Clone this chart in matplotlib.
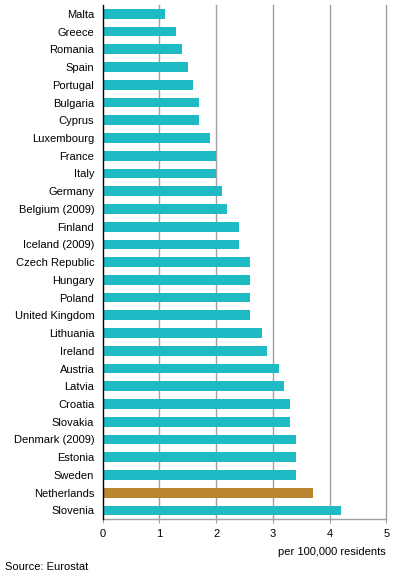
import matplotlib.pyplot as plt
import numpy as np

plt.rcParams['font.family'] = ['Liberation Sans', 'DejaVu Sans']

countries = ['Malta', 'Greece', 'Romania', 'Spain', 'Portugal', 'Bulgaria', 'Cyprus',
             'Luxembourg', 'France', 'Italy', 'Germany', 'Belgium (2009)', 'Finland',
             'Iceland (2009)', 'Czech Republic', 'Hungary', 'Poland', 'United Kingdom',
             'Lithuania', 'Ireland', 'Austria', 'Latvia', 'Croatia', 'Slovakia',
             'Denmark (2009)', 'Estonia', 'Sweden', 'Netherlands', 'Slovenia']
values = [1.1, 1.3, 1.4, 1.5, 1.6, 1.7, 1.7, 1.9, 2.0, 2.0, 2.1, 2.2, 2.4, 2.4,
          2.6, 2.6, 2.6, 2.6, 2.8, 2.9, 3.1, 3.2, 3.3, 3.3, 3.4, 3.4, 3.4, 3.7, 4.2]
highlight = 'Netherlands'

teal = '#1FBBC4'
brown = '#B98530'
grid_col = '#A0A0A0'

fig = plt.figure(figsize=(3.96, 5.8), dpi=100)
ax = fig.add_axes([0.2593, 0.1047, 0.7162, 0.8867])

ypos = np.arange(len(countries))
colors = [brown if c == highlight else teal for c in countries]
ax.barh(ypos, values, height=0.55, color=colors, zorder=3)

ax.set_xlim(0, 5)
ax.set_ylim(len(countries) - 0.5, -0.5)
ax.set_yticks(ypos)
ax.set_yticklabels(countries, fontsize=8)
ax.set_xticks(range(6))
ax.set_xticklabels([str(i) for i in range(6)], fontsize=8)
ax.tick_params(axis='y', length=0, pad=6)
ax.tick_params(axis='x', length=3, color=grid_col, pad=4)

for x in range(1, 6):
    ax.axvline(x, color=grid_col, lw=1, zorder=1, clip_on=False)

for s in ['top', 'right']:
    ax.spines[s].set_visible(False)
ax.spines['left'].set_color('black')
ax.spines['left'].set_linewidth(1)
ax.spines['left'].set_zorder(4)
ax.spines['bottom'].set_color(grid_col)
ax.spines['bottom'].set_linewidth(1)

fig.text(386 / 396, 1 - 552 / 580, 'per 100,000 residents', ha='right', va='center', fontsize=8)
fig.text(5 / 396, 1 - 567 / 580, 'Source: Eurostat', ha='left', va='center', fontsize=8)

fig.savefig('out.png', dpi=100)
